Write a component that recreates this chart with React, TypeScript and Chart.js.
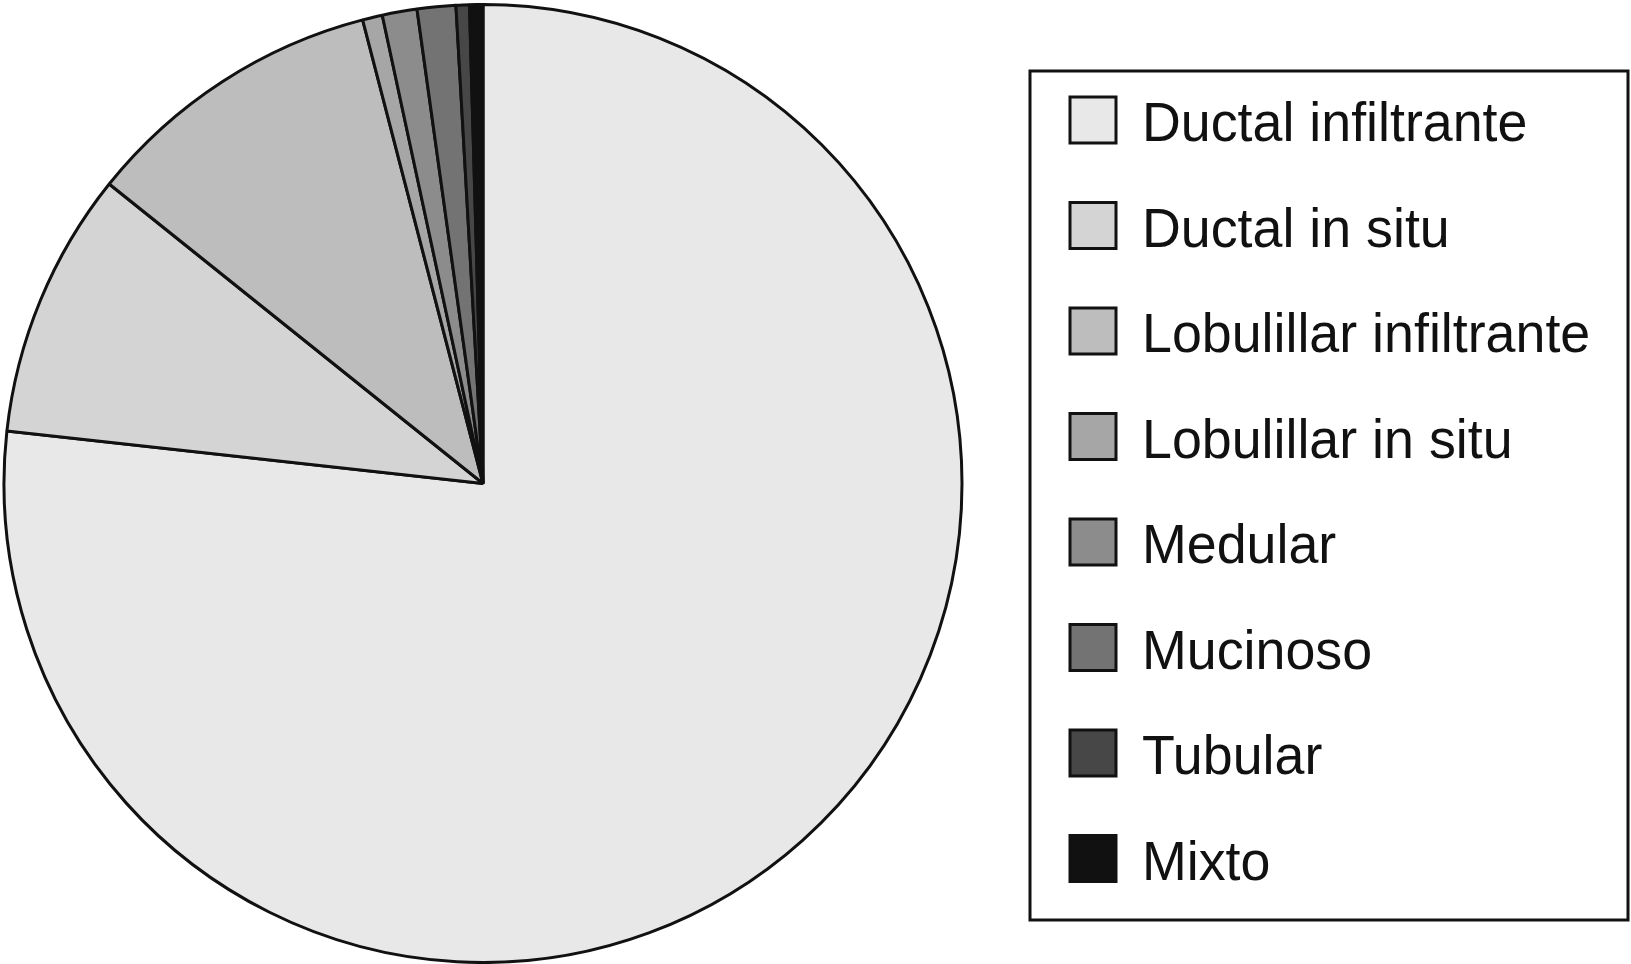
import React, { useEffect, useRef } from "react";
import { Chart, registerables } from "chart.js";

Chart.register(...registerables);

const categories = [
  "Ductal infiltrante",
  "Ductal in situ",
  "Lobulillar infiltrante",
  "Lobulillar in situ",
  "Medular",
  "Mucinoso",
  "Tubular",
  "Mixto",
];

const percentages = [76.7, 9.0, 10.2, 0.67, 1.17, 1.3, 0.45, 0.45];

const sliceColors = [
  "#e8e8e8",
  "#d4d4d4",
  "#bdbdbd",
  "#a6a6a6",
  "#8c8c8c",
  "#737373",
  "#474747",
  "#111111",
];

const W = 1631;
const H = 964;

const boxedLegend = {
  id: "boxedLegend",
  afterDraw(chart: any) {
    const ctx = chart.ctx as CanvasRenderingContext2D;
    const labels: string[] = chart.data.labels;
    const colors: string[] = chart.data.datasets[0].backgroundColor;
    const boxL = 1030, boxT = 71, boxR = 1628, boxB = 920;
    ctx.save();
    ctx.lineWidth = 3;
    ctx.strokeStyle = "#111111";
    ctx.strokeRect(boxL, boxT, boxR - boxL, boxB - boxT);
    const sqX = 1070, sqSize = 46, firstTop = 97, step = 105.5;
    labels.forEach((label, i) => {
      const top = firstTop + i * step;
      ctx.fillStyle = colors[i];
      ctx.fillRect(sqX, top, sqSize, sqSize);
      ctx.lineWidth = 3;
      ctx.strokeStyle = "#111111";
      ctx.strokeRect(sqX, top, sqSize, sqSize);
      ctx.save();
      ctx.translate(1142, top + sqSize - 2);
      ctx.scale(0.96, 1);
      ctx.fillStyle = "#111111";
      ctx.font = "56px 'Liberation Sans', Arial, sans-serif";
      ctx.textBaseline = "alphabetic";
      ctx.fillText(label, 0, 0);
      ctx.restore();
    });
    ctx.restore();
  },
};

export default function App() {
  const ref = useRef<HTMLCanvasElement | null>(null);
  useEffect(() => {
    if (!ref.current) return;
    const chart = new Chart(ref.current, {
      type: "pie",
      data: {
        labels: categories,
        datasets: [
          {
            data: percentages,
            backgroundColor: sliceColors,
            borderColor: "#111111",
            borderWidth: 3,
          },
        ],
      },
      options: {
        responsive: false,
        animation: false,
        layout: { padding: { left: 2, top: 3, right: 667, bottom: -1 } },
        plugins: {
          legend: { display: false },
          tooltip: { enabled: false },
        },
      },
      plugins: [boxedLegend],
    });
    return () => chart.destroy();
  }, []);
  return (
    <div style={{ position: "absolute", left: 0, top: 0, width: W, height: H, background: "#fff" }}>
      <canvas ref={ref} width={W} height={H} style={{ display: "block" }} />
    </div>
  );
}
